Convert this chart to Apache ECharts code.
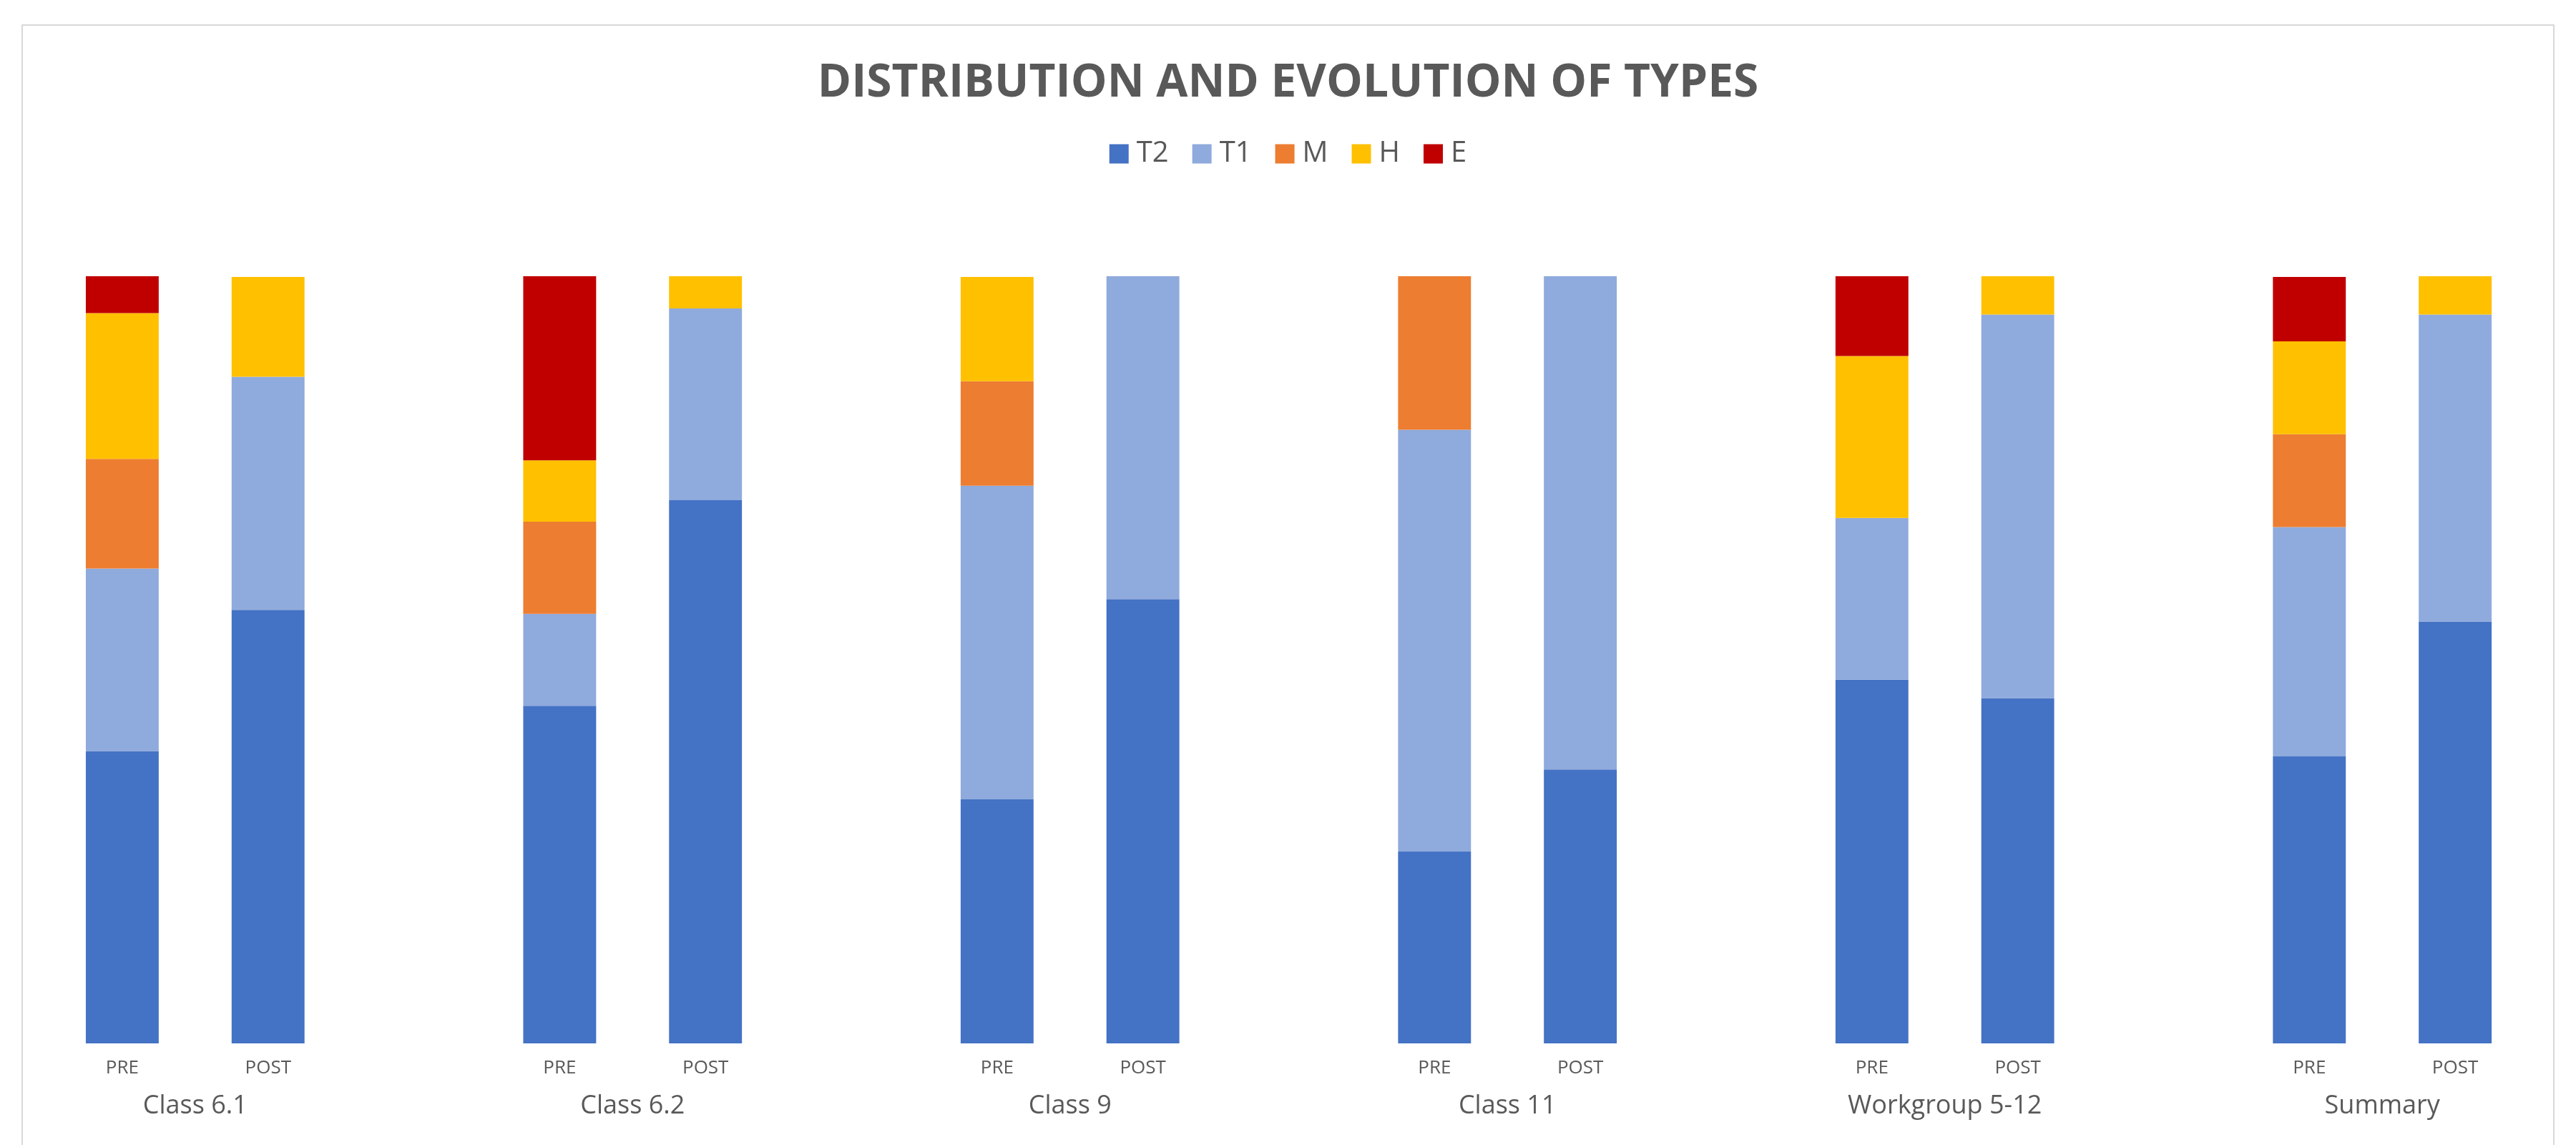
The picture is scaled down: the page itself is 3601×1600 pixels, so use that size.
<!DOCTYPE html>
<html>
<head>
<meta charset="utf-8">
<script src="https://cdn.jsdelivr.net/npm/echarts@6/dist/echarts.min.js"></script>
<style>
  html, body { margin: 0; padding: 0; background: #fff; overflow: hidden; }
  #chart {
    position: absolute; left: 30px; top: 34px;
    width: 3541px; height: 1620px;
    box-sizing: border-box; border: 2px solid #d9d9d9;
  }
</style>
</head>
<body>
<div id="chart"></div>
<script>
const groups = ['Class 6.1', 'Class 6.2', 'Class 9', 'Class 11', 'Workgroup 5-12', 'Summary']
const phases = ['PRE', 'POST']
const seriesNames = ['T2', 'T1', 'M', 'H', 'E']
const colors = ['#4472C4', '#8FAADC', '#ED7D31', '#FFC000', '#C00000']

// share of each type in %, order: PRE, POST for every group
const t2 = [38.1, 56.5, 44.0, 70.8, 31.8, 57.9, 25.0, 35.7, 47.4, 45.0, 37.4, 55.0]
const t1 = [23.8, 30.4, 12.0, 25.0, 40.9, 42.1, 55.0, 64.3, 21.1, 50.0, 29.9, 40.0]
const m  = [14.3, 0, 12.0, 0, 13.6, 0, 20.0, 0, 0, 0, 12.1, 0]
const h  = [19.0, 13.0, 8.0, 4.2, 13.6, 0, 0, 0, 21.1, 5.0, 12.1, 5.0]
const e  = [4.8, 0, 24.0, 0, 0, 0, 0, 0, 10.5, 0, 8.4, 0]
const values = [t2, t1, m, h, e]

const font = '"Open Sans", "Liberation Sans", sans-serif'
const textColor = '#595959'

// an empty slot is left between two groups
function spread(vals) {
  const out = []
  groups.forEach((g, i) => {
    if (i > 0) out.push(null)
    out.push(vals[i * 2], vals[i * 2 + 1])
  })
  return out
}

const phaseLabels = groups.flatMap((g, i) => i ? [''].concat(phases) : phases)
// half-slot points, group name sits between its PRE and POST bars
const groupLabels = Array.from({length: phaseLabels.length * 2 + 1}, (_, i) =>
  i >= 2 && (i - 2) % 6 === 0 ? groups[(i - 2) / 6] : '')

const chart = echarts.init(document.getElementById('chart'), null, {renderer: 'canvas'})

chart.setOption({
  animation: false,
  color: colors,
  title: {
    text: 'DISTRIBUTION AND EVOLUTION OF TYPES',
    left: 'center',
    top: 44,
    textStyle: {fontFamily: font, fontSize: 64, fontWeight: 'bold', color: textColor}
  },
  legend: {
    data: seriesNames,
    left: 'center',
    top: 154,
    icon: 'rect',
    itemWidth: 27,
    itemHeight: 27,
    itemGap: 33,
    textStyle: {fontFamily: font, fontSize: 40, color: textColor, padding: [0, 0, 0, 6]}
  },
  grid: {left: 37, right: 35, top: 350, height: 1072},
  xAxis: [
    {
      type: 'category',
      data: phaseLabels,
      axisLine: {show: false},
      axisTick: {show: false},
      axisLabel: {interval: 0, margin: 22, fontFamily: font, fontSize: 26, color: textColor}
    },
    {
      type: 'category',
      position: 'bottom',
      boundaryGap: false,
      data: groupLabels,
      axisLine: {show: false},
      axisTick: {show: false},
      splitLine: {show: false},
      axisLabel: {interval: 0, margin: 70, fontFamily: font, fontSize: 36, color: textColor}
    }
  ],
  yAxis: {type: 'value', min: 0, max: 100, show: false},
  series: seriesNames.map((name, i) => ({
    name: name,
    type: 'bar',
    stack: 'total',
    barWidth: '50%',
    emphasis: {disabled: true},
    data: spread(values[i])
  }))
})

window.onresize = () => chart.resize()
</script>
</body>
</html>
